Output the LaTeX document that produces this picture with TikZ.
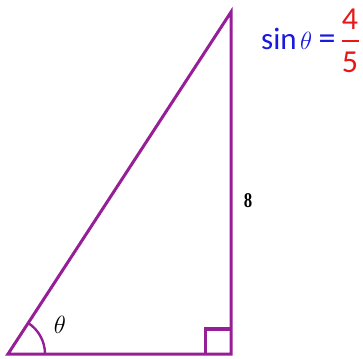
\documentclass[tikz,border=0pt]{standalone}
\usepackage{fontspec}
\newfontfamily\calib{Carlito}
\newfontfamily\tms{Liberation Serif}
\definecolor{tripurple}{RGB}{150,30,150}
\definecolor{eqblue}{RGB}{25,25,225}
\definecolor{eqred}{RGB}{230,25,25}
\begin{document}
\begin{tikzpicture}[x=1pt,y=-1pt,
  side/.style={draw=tripurple,line width=3pt,line join=miter},
  lbl/.style={inner sep=0pt,anchor=center}]
\useasboundingbox (0,0) rectangle (363,358);
\coordinate (A) at (8,354);
\coordinate (B) at (231,354);
\coordinate (C) at (231,12);
\draw[side] (A) -- (B) -- (C) -- cycle;
% right angle mark
\coordinate (R1) at (205,354);
\coordinate (R2) at (205,328);
\coordinate (R3) at (231,328);
\draw[side] (R1) -- (R2) -- (R3);
\draw[tripurple,line width=2.5pt] (205,330) -- (231,330);
% angle arc
\draw[tripurple,line width=2.4pt] (A) ++(37,0) arc[start angle=0,end angle=-57,radius=37];
\node[lbl] (th) at (60,325) {\fontsize{28}{28}\selectfont$\theta$};
\node[lbl] (eight) at (248,201) {\tms\bfseries\fontsize{21}{21}\selectfont\scalebox{0.8}[1]{8}};
% equation
\node[lbl,anchor=base west,text=eqblue] (sin) at (261,50) {\calib\fontsize{31}{31}\selectfont sin};
\node[lbl,anchor=base west,text=eqblue] (th2) at ([xshift=3pt]sin.base east) {\fontsize{31}{31}\selectfont$\theta$};
\node[lbl,anchor=base west,text=eqblue] (eq) at ([xshift=6pt]th2.base east) {\calib\fontsize{34}{34}\selectfont =};
\node[lbl,text=eqred] (four) at (350,19) {\calib\fontsize{32}{32}\selectfont 4};
\node[lbl,text=eqred] (five) at (350,62) {\calib\fontsize{32}{32}\selectfont 5};
\draw[eqred,line width=1.6pt] (342,41) -- (359,41);
\end{tikzpicture}
\end{document}
